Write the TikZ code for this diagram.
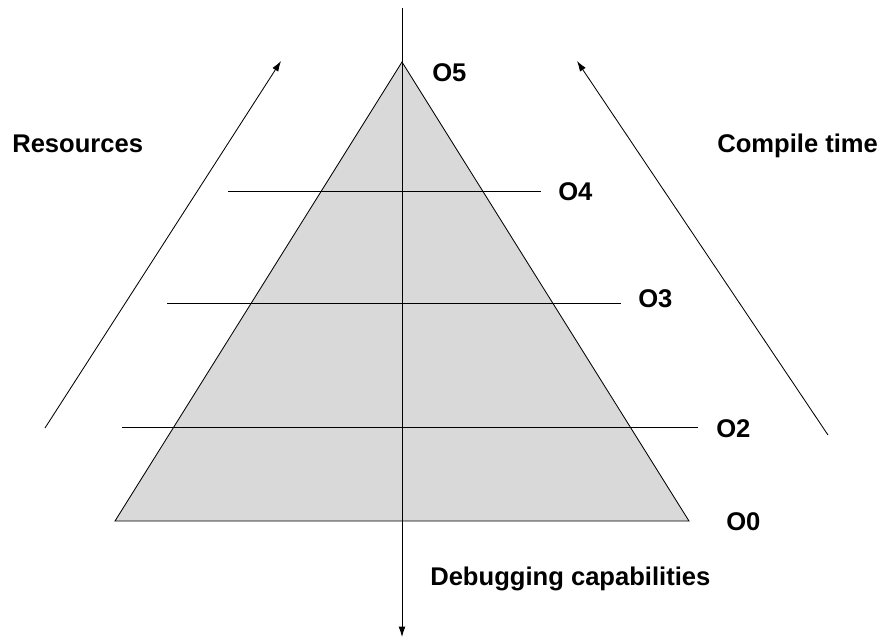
\documentclass[tikz,border=0pt]{standalone}
\usepackage{fontspec}
\setmainfont{Liberation Sans}
\usetikzlibrary{arrows.meta}
\definecolor{pyrgray}{RGB}{217,217,217}

\begin{document}
\begin{tikzpicture}[
  x=0.025cm,y=-0.025cm,
  every node/.style={font=\fontsize{18.2}{21}\selectfont\bfseries,inner sep=0pt},
  lbl/.style={anchor=base west},
  level/.style={line width=0.6pt},
  trend/.style={line width=0.6pt,-{Latex[length=2.6mm,width=1.7mm]}},
]
\useasboundingbox (0,0) rectangle (880,641);

%% Pyramid
\coordinate (apex) at (402,62);
\coordinate (bl)   at (115,521);
\coordinate (br)   at (689,521);
\fill[pyrgray] (apex) -- (bl) -- (br) -- cycle;
\draw[line width=0.6pt] (apex) -- (bl) -- (br) -- cycle;

%% Level lines
\coordinate (l4a) at (228,191); \coordinate (l4b) at (541,191);
\coordinate (l3a) at (167,303); \coordinate (l3b) at (621,303);
\coordinate (l2a) at (122,427); \coordinate (l2b) at (698,427);
\draw[level] (l4a) -- (l4b);
\draw[level] (l3a) -- (l3b);
\draw[level] (l2a) -- (l2b);

%% Vertical axis
\coordinate (top) at (402,8);
\coordinate (bot) at (402,637);
\draw[trend] (top) -- (bot);

%% Level labels
\node[lbl] (o5) at (432,81)  {O5};
\node[lbl] (o4) at (558,200) {O4};
\node[lbl] (o3) at (638,307) {O3};
\node[lbl] (o2) at (716,437) {O2};
\node[lbl] (o0) at (726,530) {O0};

%% Side trends
\coordinate (rs) at (45,428);  \coordinate (re) at (281,61);
\coordinate (cs) at (828,435); \coordinate (ce) at (577,61);
\draw[trend] (rs) -- (re);
\draw[trend] (cs) -- (ce);

\node[lbl] (res)  at (12,152)  {Resources};
\node[lbl] (comp) at (717,152) {Compile time};
\node[lbl] (dbg)  at (430,585) {Debugging capabilities};

\end{tikzpicture}
\end{document}
